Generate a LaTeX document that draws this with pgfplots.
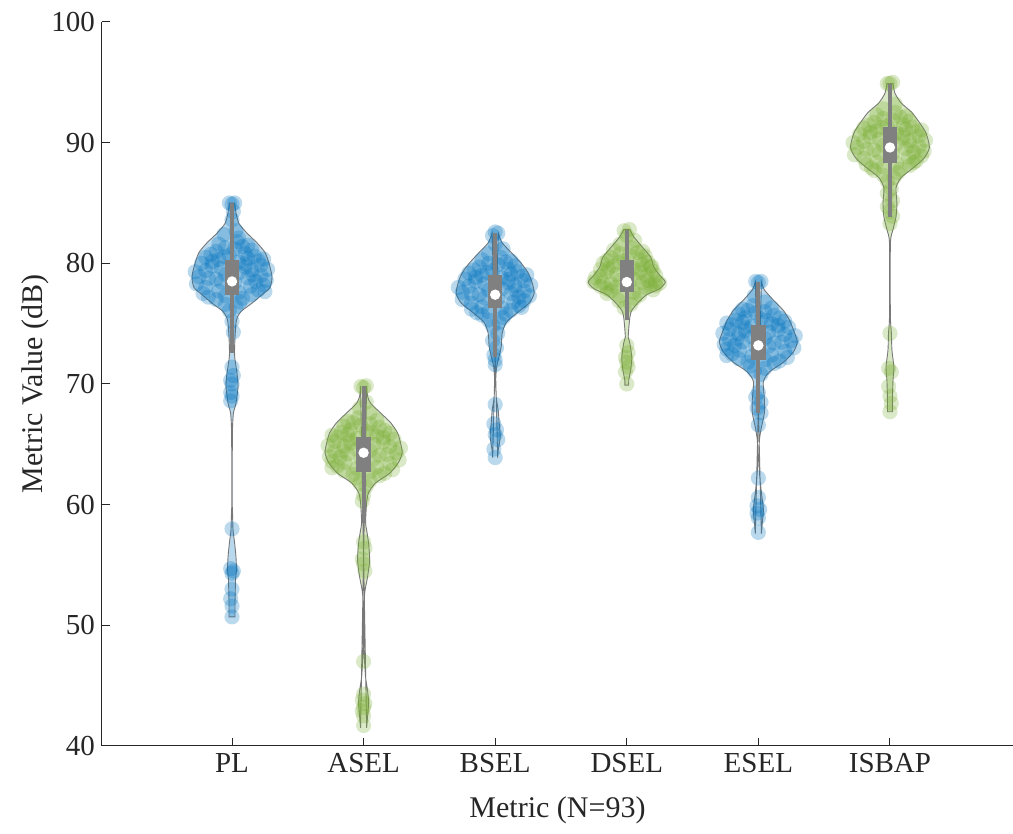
\documentclass[border=0pt]{standalone}
\usepackage{pgfplots}
\pgfplotsset{compat=1.18}
\usepackage{pgfplotstable}
\usepgfplotslibrary{fillbetween}
\usepackage{fontspec}
\setmainfont{Liberation Serif}
\definecolor{mblue}{RGB}{0,114,189}
\definecolor{mgreen}{RGB}{119,172,48}
\definecolor{boxgray}{RGB}{128,128,128}
\definecolor{vgray}{RGB}{120,120,120}
\definecolor{axgray}{RGB}{38,38,38}
\newcommand{\violin}[3]{%
 \addplot[draw=none, name path=R#1, smooth, tension=0.4] table[x expr=#1+\thisrow{w}, y=y]{#2};
 \addplot[draw=none, name path=L#1, smooth, tension=0.4] table[x expr=#1-\thisrow{w}, y=y]{#2};
 \addplot[fill=#3, fill opacity=0.28, draw=vgray, line width=0.45pt] fill between[of=R#1 and L#1];
}
\newcommand{\pts}[3]{%
 \addplot[only marks, mark=*, mark size=3.8pt, color=#3, draw opacity=0, fill opacity=0.27, mark options={solid, fill=#3, draw=#3, draw opacity=0, fill opacity=0.27}] table[x expr=#1+\thisrow{dx}, y=y]{#2};
}
\newcommand{\bx}[8]{%
 \addplot[boxgray, line width=2pt] coordinates {(#1,#6) (#1,#7)};
 \addplot[fill=boxgray, draw=none] coordinates {(#2,#4) (#3,#4) (#3,#5) (#2,#5)};
 \addplot[only marks, mark=*, mark size=2.6pt, color=white, mark options={solid, fill=white, draw=white, draw opacity=0}] coordinates {(#1,#8)};
}
\begin{document}
% violin outlines: y, half width (x units)
\pgfplotstableread[row sep=\\]{
y w\\
50.7 0.023\\ 52.0 0.023\\ 53.8 0.027\\ 54.6 0.034\\ 55.7 0.030\\ 56.8 0.020\\ 57.9 0.008\\ 59.3 0.004\\ 60.0 0.002\\ 64.0 0.002\\ 66.4 0.004\\ 67.6 0.011\\ 68.4 0.030\\ 69.8 0.046\\ 70.9 0.038\\ 72.0 0.023\\ 72.6 0.019\\ 73.9 0.023\\ 75.3 0.034\\ 76.0 0.068\\ 76.7 0.152\\ 77.4 0.228\\ 78.0 0.289\\ 78.9 0.304\\ 80.0 0.281\\ 80.9 0.251\\ 81.7 0.190\\ 82.5 0.114\\ 83.3 0.053\\ 84.2 0.030\\ 85.0 0.020\\
}\vPL
\pgfplotstableread[row sep=\\]{
y w\\
41.5 0.023\\ 42.4 0.030\\ 43.6 0.038\\ 44.6 0.030\\ 45.7 0.015\\ 46.9 0.008\\ 47.7 0.004\\ 49.0 0.002\\ 51.9 0.004\\ 52.9 0.011\\ 54.0 0.030\\ 55.4 0.046\\ 56.8 0.038\\ 57.9 0.023\\ 58.5 0.015\\ 60.15 0.023\\ 61.0 0.038\\ 61.8 0.091\\ 62.6 0.198\\ 63.5 0.266\\ 64.3 0.293\\ 65.1 0.281\\ 65.95 0.258\\ 66.8 0.205\\ 67.6 0.129\\ 68.4 0.053\\ 69.0 0.030\\ 69.85 0.023\\
}\vASEL
\pgfplotstableread[row sep=\\]{
y w\\
63.9 0.019\\ 64.5 0.023\\ 65.6 0.038\\ 66.8 0.030\\ 67.8 0.023\\ 68.9 0.008\\ 70.3 0.004\\ 71.4 0.011\\ 72.3 0.030\\ 73.1 0.046\\ 74.2 0.053\\ 75.1 0.084\\ 75.9 0.167\\ 76.7 0.258\\ 77.5 0.296\\ 78.4 0.281\\ 79.2 0.251\\ 80.0 0.198\\ 80.9 0.122\\ 81.7 0.053\\ 82.5 0.023\\
}\vBSEL
\pgfplotstableread[row sep=\\]{
y w\\
69.9 0.015\\ 70.3 0.015\\ 71.2 0.030\\ 72.2 0.038\\ 73.4 0.023\\ 73.9 0.011\\ 75.5 0.023\\ 76.1 0.038\\ 76.8 0.091\\ 77.4 0.152\\ 77.9 0.251\\ 78.45 0.293\\ 79.0 0.251\\ 79.7 0.205\\ 80.5 0.182\\ 81.4 0.114\\ 82.2 0.053\\ 82.8 0.023\\
}\vDSEL
\pgfplotstableread[row sep=\\]{
y w\\
57.6 0.023\\ 58.5 0.030\\ 59.6 0.038\\ 61.0 0.023\\ 62.3 0.011\\ 63.7 0.004\\ 65.35 0.008\\ 66.4 0.023\\ 67.6 0.046\\ 68.7 0.046\\ 70.2 0.038\\ 71.0 0.084\\ 71.8 0.190\\ 72.65 0.266\\ 73.5 0.296\\ 74.5 0.266\\ 75.3 0.236\\ 76.1 0.190\\ 76.95 0.114\\ 77.8 0.046\\ 78.45 0.023\\
}\vESEL
\pgfplotstableread[row sep=\\]{
y w\\
67.7 0.019\\ 68.9 0.019\\ 70.3 0.023\\ 71.4 0.030\\ 72.8 0.015\\ 74.2 0.011\\ 75.3 0.004\\ 78.0 0.002\\ 81.8 0.004\\ 82.8 0.023\\ 83.85 0.046\\ 85.0 0.053\\ 86.25 0.046\\ 87.1 0.084\\ 87.9 0.175\\ 88.7 0.258\\ 89.6 0.300\\ 90.8 0.274\\ 91.6 0.228\\ 92.5 0.167\\ 93.3 0.084\\ 94.1 0.038\\ 94.9 0.023\\
}\vISBAP
% scatter points: y, horizontal jitter
\pgfplotstableread[row sep=\\]{
y dx\\
78.9 -0.25\\ 79.0 0.22\\ 78.7 -0.12\\ 79.2 0.05\\ 78.5 0.18\\ 79.4 -0.20\\ 79.5 0.27\\ 78.3 -0.27\\ 79.1 -0.05\\ 78.8 0.12\\ 79.7 0.10\\ 78.1 0.14\\ 79.3 -0.28\\ 78.6 0.26\\ 79.8 -0.15\\ 78.0 -0.20\\ 79.6 -0.08\\ 78.4 0.02\\ 79.05 0.16\\ 78.2 0.24\\ 79.45 0.15\\ 78.75 -0.18\\ 79.85 0.22\\ 78.45 -0.08\\
80.0 -0.23\\ 80.1 0.05\\ 80.2 0.20\\ 80.3 -0.10\\ 80.4 0.12\\ 80.5 -0.20\\ 80.6 0.17\\ 80.7 -0.02\\ 80.8 0.10\\ 80.15 -0.15\\ 80.35 0.24\\ 80.55 -0.06\\ 80.75 -0.16\\ 79.95 0.10\\
81.0 -0.12\\ 81.1 0.15\\ 81.3 -0.05\\ 81.4 0.08\\ 81.6 -0.10\\ 81.8 0.04\\ 81.2 0.02\\ 81.5 0.12\\ 82.1 0.05\\ 82.4 -0.06\\ 82.7 0.03\\ 83.6 0.0\\ 84.3 0.01\\ 85.0 -0.02\\ 85.0 0.02\\ 84.9 0.0\\
77.8 0.20\\ 77.7 -0.10\\ 77.6 0.05\\ 77.5 -0.22\\ 77.4 0.15\\ 77.3 -0.05\\ 77.1 0.08\\ 77.0 -0.12\\ 77.65 0.25\\ 77.2 -0.18\\ 76.8 0.06\\ 76.6 -0.05\\ 76.4 0.03\\ 76.1 -0.02\\
75.2 0.0\\ 74.3 0.01\\ 71.4 0.0\\ 70.7 0.01\\ 70.3 -0.01\\ 70.0 0.0\\ 69.3 -0.01\\ 69.0 0.0\\ 68.6 -0.01\\ 58.0 0.0\\ 54.7 -0.01\\ 54.5 0.01\\ 54.3 0.0\\ 53.0 0.0\\ 52.2 -0.01\\ 51.6 0.0\\ 50.7 0.0\\
}\pPL
\pgfplotstableread[row sep=\\]{
y dx\\
64.3 0.25\\ 64.4 -0.22\\ 64.1 0.12\\ 64.6 -0.05\\ 63.9 -0.18\\ 64.8 0.20\\ 64.9 -0.27\\ 63.7 0.27\\ 64.5 0.05\\ 64.2 -0.12\\ 65.1 -0.10\\ 63.5 -0.14\\ 64.7 0.28\\ 64.0 -0.26\\ 65.2 0.15\\ 63.4 0.20\\ 65.0 0.08\\ 63.8 -0.02\\ 64.45 -0.16\\ 63.6 -0.24\\ 64.85 -0.15\\ 64.15 0.18\\ 65.25 -0.22\\ 63.85 0.08\\
65.4 0.23\\ 65.5 -0.05\\ 65.6 -0.20\\ 65.7 0.10\\ 65.8 -0.12\\ 65.9 0.20\\ 66.0 -0.17\\ 66.1 0.02\\ 66.2 -0.10\\ 65.55 0.15\\ 65.75 -0.24\\ 65.95 0.06\\ 66.15 0.16\\ 65.35 -0.10\\
66.4 0.12\\ 66.5 -0.15\\ 66.7 0.05\\ 66.8 -0.08\\ 67.0 0.10\\ 67.2 -0.04\\ 66.6 -0.02\\ 66.9 -0.12\\ 67.6 0.05\\ 68.0 -0.03\\ 68.5 0.02\\ 69.8 -0.02\\ 69.85 0.02\\ 69.7 0.0\\
63.2 -0.20\\ 63.1 0.10\\ 63.0 -0.05\\ 62.9 0.22\\ 62.8 -0.15\\ 62.7 0.05\\ 62.5 -0.08\\ 62.4 0.12\\ 63.05 -0.24\\ 62.6 0.16\\ 62.2 -0.06\\ 62.0 0.05\\ 61.8 -0.03\\ 61.5 0.02\\
60.8 0.0\\ 60.3 -0.01\\ 56.9 0.0\\ 56.4 0.01\\ 55.5 -0.01\\ 55.1 0.0\\ 54.5 0.01\\ 47.0 0.0\\ 44.3 0.0\\ 43.8 -0.01\\ 43.5 0.01\\ 43.2 0.0\\ 42.9 -0.01\\ 42.5 0.0\\ 41.7 0.0\\
}\pASEL
\pgfplotstableread[row sep=\\]{
y dx\\
77.6 -0.25\\ 77.7 0.22\\ 77.4 -0.12\\ 77.9 0.05\\ 77.2 0.18\\ 78.1 -0.20\\ 78.2 0.27\\ 77.0 -0.25\\ 77.8 -0.05\\ 77.5 0.12\\ 78.4 0.10\\ 76.8 0.14\\ 78.0 -0.28\\ 77.3 0.26\\ 78.5 -0.15\\ 76.7 -0.18\\ 78.3 -0.08\\ 77.1 0.02\\ 77.75 0.16\\ 76.9 0.22\\ 78.15 0.15\\ 77.45 -0.18\\ 78.55 0.22\\ 77.15 -0.08\\
78.7 -0.23\\ 78.8 0.05\\ 78.9 0.20\\ 79.0 -0.10\\ 79.1 0.12\\ 79.2 -0.20\\ 79.3 0.17\\ 79.4 -0.02\\ 79.5 0.10\\ 78.85 -0.15\\ 79.05 0.24\\ 79.25 -0.06\\ 79.45 -0.16\\ 78.65 0.10\\
79.7 -0.12\\ 79.8 0.15\\ 80.0 -0.05\\ 80.1 0.08\\ 80.3 -0.10\\ 80.5 0.04\\ 79.9 0.02\\ 80.2 0.12\\ 80.8 -0.05\\ 81.2 0.06\\ 81.6 0.0\\ 82.3 -0.02\\ 82.5 0.02\\ 82.6 0.0\\
76.5 0.18\\ 76.4 -0.10\\ 76.3 0.05\\ 76.2 -0.18\\ 76.1 0.12\\ 76.0 -0.05\\ 75.8 0.08\\ 75.7 -0.10\\ 76.35 0.20\\ 75.9 -0.14\\ 75.5 0.06\\ 75.3 -0.05\\ 75.1 0.03\\ 74.8 -0.02\\
74.2 0.02\\ 73.6 -0.02\\ 73.0 0.01\\ 72.4 -0.01\\ 72.0 0.0\\ 71.6 0.0\\ 68.3 0.0\\ 66.7 -0.01\\ 66.2 0.01\\ 65.8 0.0\\ 65.4 0.02\\ 64.6 -0.01\\ 63.9 0.0\\
}\pBSEL
\pgfplotstableread[row sep=\\]{
y dx\\
78.45 -0.25\\ 78.5 0.22\\ 78.3 -0.12\\ 78.7 0.05\\ 78.2 0.18\\ 78.9 -0.20\\ 79.0 0.22\\ 78.1 -0.20\\ 78.6 -0.05\\ 78.4 0.12\\ 79.2 0.10\\ 78.0 0.14\\ 78.8 -0.24\\ 78.35 0.25\\ 79.3 -0.15\\ 77.9 -0.15\\ 79.1 -0.08\\ 78.25 0.02\\ 78.55 0.16\\ 78.15 0.22\\ 78.95 0.15\\ 78.4 -0.18\\ 79.35 0.20\\ 78.05 -0.08\\
79.5 -0.20\\ 79.6 0.05\\ 79.7 0.18\\ 79.8 -0.10\\ 79.9 0.12\\ 80.0 -0.18\\ 80.1 0.16\\ 80.2 -0.02\\ 80.3 0.10\\ 79.55 -0.14\\ 79.75 0.19\\ 80.05 -0.06\\ 80.25 -0.15\\ 79.45 0.10\\
80.5 -0.12\\ 80.6 0.14\\ 80.8 -0.05\\ 80.9 0.08\\ 81.1 -0.10\\ 81.3 0.04\\ 80.7 0.02\\ 81.0 0.12\\ 81.6 -0.05\\ 81.9 0.06\\ 82.3 0.0\\ 82.7 -0.02\\ 82.8 0.02\\
77.8 0.20\\ 77.7 -0.12\\ 77.6 0.05\\ 77.5 -0.15\\ 77.4 0.10\\ 77.3 -0.05\\ 77.1 0.06\\ 76.9 -0.06\\ 76.6 0.03\\ 76.3 -0.02\\
73.2 0.0\\ 72.6 0.01\\ 72.2 -0.01\\ 71.8 0.0\\ 71.4 0.01\\ 71.0 -0.01\\ 70.0 0.0\\
}\pDSEL
\pgfplotstableread[row sep=\\]{
y dx\\
73.6 0.25\\ 73.7 -0.22\\ 73.4 0.12\\ 73.9 -0.05\\ 73.2 -0.18\\ 74.1 0.20\\ 74.2 -0.27\\ 73.0 0.27\\ 73.8 0.05\\ 73.5 -0.12\\ 74.4 -0.10\\ 72.8 -0.14\\ 74.0 0.28\\ 73.3 -0.26\\ 74.5 0.15\\ 72.7 0.20\\ 74.3 0.08\\ 73.1 -0.02\\ 73.75 -0.16\\ 72.9 -0.24\\ 74.15 -0.15\\ 73.45 0.18\\ 74.55 -0.22\\ 73.15 0.08\\
74.7 0.23\\ 74.8 -0.05\\ 74.9 -0.20\\ 75.0 0.10\\ 75.1 -0.12\\ 75.2 0.20\\ 75.3 -0.17\\ 75.4 0.02\\ 75.5 -0.10\\ 74.85 0.15\\ 75.05 -0.24\\ 75.25 0.06\\ 75.45 0.16\\ 74.65 -0.10\\
75.7 0.12\\ 75.8 -0.15\\ 76.0 0.05\\ 76.1 -0.08\\ 76.3 0.10\\ 76.5 -0.04\\ 75.9 -0.02\\ 76.2 -0.12\\ 76.8 0.05\\ 77.3 -0.03\\ 78.4 0.0\\ 78.5 0.02\\ 78.5 -0.02\\
72.5 -0.20\\ 72.4 0.10\\ 72.3 -0.05\\ 72.2 0.22\\ 72.1 -0.15\\ 72.0 0.05\\ 71.8 -0.08\\ 71.7 0.12\\ 72.35 -0.24\\ 71.9 0.16\\ 71.5 -0.06\\ 71.3 0.05\\ 71.1 -0.03\\ 70.8 0.02\\
69.3 0.0\\ 68.9 -0.02\\ 68.5 0.02\\ 68.0 -0.01\\ 67.6 0.02\\ 66.6 0.0\\ 62.2 0.0\\ 60.6 0.0\\ 59.9 -0.01\\ 59.6 0.01\\ 59.3 -0.01\\ 58.9 0.0\\ 57.7 0.0\\
}\pESEL
\pgfplotstableread[row sep=\\]{
y dx\\
89.6 -0.25\\ 89.7 0.22\\ 89.4 -0.12\\ 89.9 0.05\\ 89.2 0.18\\ 90.1 -0.20\\ 90.2 0.27\\ 89.0 -0.27\\ 89.8 -0.05\\ 89.5 0.12\\ 90.4 0.10\\ 88.8 0.14\\ 90.0 -0.28\\ 89.3 0.26\\ 90.5 -0.15\\ 88.7 -0.20\\ 90.3 -0.08\\ 89.1 0.02\\ 89.75 0.16\\ 88.9 0.24\\ 90.15 0.15\\ 89.45 -0.18\\ 90.55 0.22\\ 89.15 -0.08\\
90.7 -0.23\\ 90.8 0.05\\ 90.9 0.20\\ 91.0 -0.10\\ 91.1 0.12\\ 91.2 -0.20\\ 91.3 0.17\\ 91.4 -0.02\\ 91.5 0.10\\ 90.85 -0.15\\ 91.05 0.24\\ 91.25 -0.06\\ 91.45 -0.16\\ 90.65 0.10\\
91.7 -0.12\\ 91.8 0.15\\ 92.0 -0.05\\ 92.1 0.08\\ 92.3 -0.10\\ 92.5 0.04\\ 91.9 0.02\\ 92.2 0.12\\ 92.8 -0.05\\ 93.2 0.04\\ 94.9 -0.02\\ 95.0 0.02\\ 94.9 0.0\\
88.5 0.20\\ 88.4 -0.10\\ 88.3 0.05\\ 88.2 -0.18\\ 88.1 0.15\\ 88.0 -0.05\\ 87.8 0.08\\ 87.7 -0.12\\ 88.35 0.18\\ 87.9 -0.14\\ 87.5 0.06\\ 87.3 -0.05\\ 87.1 0.03\\ 86.8 -0.02\\
86.2 0.01\\ 85.8 -0.02\\ 85.2 0.02\\ 84.7 -0.02\\ 84.3 0.0\\ 83.9 0.02\\ 83.3 0.0\\ 74.2 0.0\\ 71.3 -0.01\\ 71.0 0.01\\ 69.8 -0.01\\ 69.0 0.0\\ 68.4 0.01\\ 67.7 0.0\\
}\pISBAP
\begin{tikzpicture}
\begin{axis}[
  name=ax,
  scale only axis,
  width=455.5pt, height=362pt,
  xmin=0.012, xmax=6.935,
  ymin=40, ymax=100,
  axis x line*=bottom, axis y line*=left,
  axis line style={axgray, line width=0.5pt, -},
  tick style={axgray, line width=0.5pt},
  tick align=inside,
  major tick length=4pt,
  xtick={1,2,3,4,5,6},
  xticklabels={PL,ASEL,BSEL,DSEL,ESEL,ISBAP},
  ytick={40,50,60,70,80,90,100},
  /pgf/number format/assume math mode=true,
  tick label style={font=\fontsize{14.5}{17}\selectfont, text=axgray},
  label style={font=\fontsize{15}{18}\selectfont, text=axgray},
  xlabel={Metric (N=93)},
  ylabel={Metric Value (dB)},
  xlabel style={at={(axis description cs:0.5,-0.0884)}, anchor=center},
  ylabel style={at={(axis description cs:-0.0735,0.5)}, anchor=center},
  clip=false,
  clip marker paths=true,
]
\violin{1}{\vPL}{mblue}
\violin{2}{\vASEL}{mgreen}
\violin{3}{\vBSEL}{mblue}
\violin{4}{\vDSEL}{mgreen}
\violin{5}{\vESEL}{mblue}
\violin{6}{\vISBAP}{mgreen}
\pts{1}{\pPL}{mblue}
\pts{2}{\pASEL}{mgreen}
\pts{3}{\pBSEL}{mblue}
\pts{4}{\pDSEL}{mgreen}
\pts{5}{\pESEL}{mblue}
\pts{6}{\pISBAP}{mgreen}
\bx{1}{0.945}{1.055}{77.4}{80.3}{72.6}{85.0}{78.5}
\bx{2}{1.945}{2.055}{62.7}{65.6}{58.5}{69.85}{64.3}
\bx{3}{2.945}{3.055}{76.3}{79.0}{72.2}{82.5}{77.4}
\bx{4}{3.945}{4.055}{77.6}{80.3}{75.3}{82.8}{78.45}
\bx{5}{4.945}{5.055}{72.0}{74.9}{67.6}{78.45}{73.2}
\bx{6}{5.945}{6.055}{88.3}{91.3}{83.85}{94.9}{89.6}
\end{axis}
\pgfresetboundingbox
\path (ax.south west) ++(-51pt,-44pt) rectangle ++(506.5pt,417pt);
\end{tikzpicture}
\end{document}
